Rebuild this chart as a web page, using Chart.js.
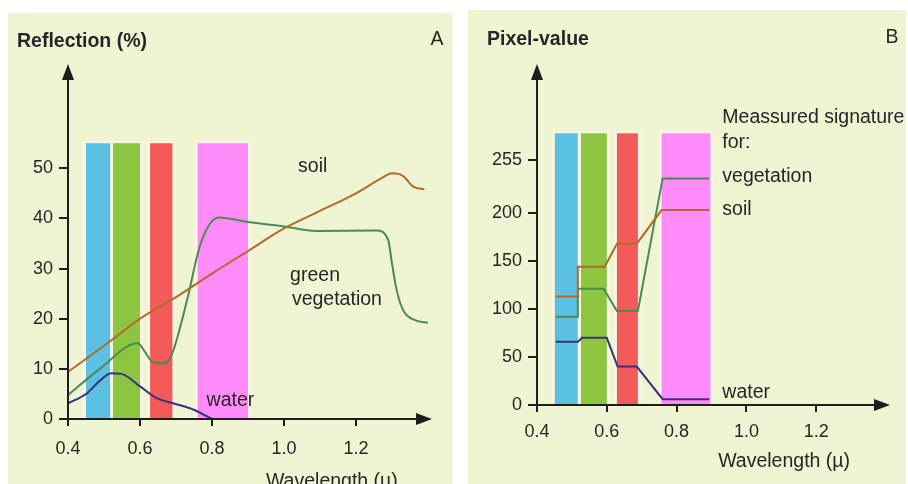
<!DOCTYPE html>
<html>
<head>
<meta charset="utf-8">
<script src="https://cdn.jsdelivr.net/npm/chart.js@4.4.0/dist/chart.umd.min.js"></script>
<style>
  body { margin: 0; background: #fff; width: 908px; height: 484px; overflow: hidden; position: relative; }
  .painel { position: absolute; background: #eff4d3; }
  #painelA { left: 8px; top: 13px; width: 445px; height: 480px; }
  #painelB { left: 468px; top: 10px; width: 438px; height: 480px; }
</style>
</head>
<body>
<div class="painel" id="painelA"><canvas id="graficoA"></canvas></div>
<div class="painel" id="painelB"><canvas id="graficoB"></canvas></div>
<script>
// faixas espectrais (comprimento de onda inicio/fim)
const bandasA = [[0.45, 0.517], [0.525, 0.6], [0.628, 0.69], [0.76, 0.9]];
const bandasB = [[0.451, 0.517], [0.526, 0.6], [0.629, 0.689], [0.757, 0.897]];
const coresBandas = ['#5cc0e2', '#8dc540', '#f35a5a', '#ff8bfa'];
const topoBandaA = 55;
const topoBandaB = 283;

const ticksX = [0.4, 0.6, 0.8, 1.0, 1.2];
const ticksYA = [0, 10, 20, 30, 40, 50];
const ticksYB = [0, 50, 100, 150, 200, 255];

// A - reflexao (%)
const soloAx = [0.4, 0.5, 0.6, 0.7, 0.8, 0.9, 1.0, 1.1, 1.2, 1.27, 1.3, 1.33, 1.36, 1.39];
const soloAy = [9.4, 14.6, 20, 24.3, 29, 33.5, 38, 41.5, 45, 48, 49, 48.5, 46.3, 45.8];
const vegAx = [0.4, 0.485, 0.594, 0.611, 0.634, 0.661, 0.684, 0.707, 0.735, 0.763, 0.791, 0.819, 0.9, 1.0, 1.09, 1.256, 1.289, 1.3, 1.313, 1.331, 1.364, 1.4];
const vegAy = [4.8, 9.8, 15.1, 13.7, 11.4, 11.1, 12.1, 17.1, 25, 33.7, 38.6, 40.2, 39.3, 38.4, 37.5, 37.6, 35.8, 31, 25.7, 21.7, 19.7, 19.2];
const aguaAx = [0.4, 0.452, 0.485, 0.52, 0.548, 0.602, 0.648, 0.694, 0.751, 0.8];
const aguaAy = [3.1, 5.1, 7.4, 9.1, 9.0, 6.4, 4.1, 3.1, 1.8, 0];

// B - pixel-value
const soloBx = [0.454, 0.517, 0.517, 0.594, 0.629, 0.686, 0.757, 0.894];
const soloBy = [113, 113, 144, 144, 168, 168, 203, 203];
const vegBx = [0.454, 0.517, 0.517, 0.591, 0.629, 0.689, 0.76, 0.894];
const vegBy = [92, 92, 121, 121, 98, 98, 236, 236];
const aguaBx = [0.454, 0.517, 0.529, 0.6, 0.631, 0.686, 0.76, 0.894];
const aguaBy = [66, 66, 70, 70, 40, 40, 6, 6];

const corSolo = '#b4692c';
const corVeg = '#4b8a52';
const corAgua = '#34337e';
const corTexto = '#262626';
const corEixo = '#1e1e1e';
const fonte = '"Liberation Sans", Arial, sans-serif';

function pontos(xs, ys) {
  return xs.map((x, i) => ({ x: x, y: ys[i] }));
}

function serie(nome, xs, ys, cor, curva) {
  return {
    label: nome,
    data: pontos(xs, ys),
    showLine: true,
    borderColor: cor,
    borderWidth: 2,
    pointRadius: 0,
    tension: curva ? 0.4 : 0,
    cubicInterpolationMode: curva ? 'monotone' : 'default'
  };
}

const faixasPlugin = {
  id: 'faixas',
  beforeDatasetsDraw(chart, args, opts) {
    const { ctx, scales: { x, y } } = chart;
    const yTopo = y.getPixelForValue(opts.topo);
    const yBase = y.getPixelForValue(0);
    ctx.save();
    opts.bandas.forEach((b) => {
      const x0 = x.getPixelForValue(b[0]);
      const x1 = x.getPixelForValue(b[1]);
      ctx.fillStyle = '#f9f6e2';
      ctx.fillRect(x0 - 3, yTopo - 2, x1 - x0 + 6, yBase - yTopo + 2);
    });
    opts.bandas.forEach((b, i) => {
      const x0 = x.getPixelForValue(b[0]);
      const x1 = x.getPixelForValue(b[1]);
      ctx.fillStyle = coresBandas[i];
      ctx.fillRect(x0, yTopo, x1 - x0, yBase - yTopo);
    });
    ctx.restore();
  }
};

const eixosPlugin = {
  id: 'eixos',
  afterDraw(chart, args, opts) {
    const { ctx, chartArea, scales: { x, y } } = chart;
    const x0 = chartArea.left;
    const y0 = chartArea.bottom;
    ctx.save();
    // linhas dos eixos por cima das faixas
    ctx.strokeStyle = corEixo;
    ctx.lineWidth = 2;
    ctx.beginPath();
    ctx.moveTo(x0 - 9, y0);
    ctx.lineTo(chartArea.right - 6, y0);
    ctx.moveTo(x0, y0 + 7);
    ctx.lineTo(x0, chartArea.top + 6);
    ctx.stroke();
    ctx.fillStyle = corEixo;
    // seta x
    ctx.beginPath();
    ctx.moveTo(chartArea.right + 4, y0);
    ctx.lineTo(chartArea.right - 12, y0 - 6);
    ctx.lineTo(chartArea.right - 12, y0 + 6);
    ctx.closePath();
    ctx.fill();
    // seta y
    ctx.beginPath();
    ctx.moveTo(x0, chartArea.top - 4);
    ctx.lineTo(x0 - 6, chartArea.top + 12);
    ctx.lineTo(x0 + 6, chartArea.top + 12);
    ctx.closePath();
    ctx.fill();
    // textos
    ctx.fillStyle = corTexto;
    ctx.textBaseline = 'middle';
    opts.textos.forEach((t) => {
      ctx.font = (t.negrito ? 'bold ' : '') + '19.5px ' + fonte;
      ctx.textAlign = t.alinha || 'left';
      const px = t.px !== undefined ? t.px : x.getPixelForValue(t.x);
      const py = t.py !== undefined ? t.py : y.getPixelForValue(t.y);
      ctx.fillText(t.texto, px, py);
    });
    ctx.restore();
  }
};

function criaGrafico(id, cfg) {
  return new Chart(document.getElementById(id), {
    type: 'scatter',
    data: { datasets: cfg.series },
    options: {
      responsive: true,
      maintainAspectRatio: false,
      animation: false,
      layout: { padding: cfg.padding },
      plugins: {
        legend: { display: false },
        tooltip: { enabled: false },
        faixas: { bandas: cfg.bandas, topo: cfg.topo },
        eixos: { textos: cfg.textos }
      },
      scales: {
        x: {
          type: 'linear',
          min: 0.4,
          max: 1.4,
          afterBuildTicks: (s) => { s.ticks = ticksX.map((v) => ({ value: v })); },
          afterFit: (s) => { s.height = cfg.alturaX; },
          border: { display: false },
          grid: { drawOnChartArea: false, drawTicks: true, tickLength: 7, tickColor: corEixo, lineWidth: 2 },
          ticks: {
            padding: cfg.padTickX,
            color: corTexto,
            font: { family: fonte, size: 18 },
            callback: (v) => Number(v).toFixed(1)
          }
        },
        y: {
          min: 0,
          max: cfg.maxY,
          afterBuildTicks: (s) => { s.ticks = cfg.ticksY.map((v) => ({ value: v })); },
          afterFit: (s) => { s.width = cfg.larguraY; },
          border: { display: false },
          grid: { drawOnChartArea: false, drawTicks: true, tickLength: 9, tickColor: corEixo, lineWidth: 2 },
          ticks: {
            padding: 6,
            color: corTexto,
            font: { family: fonte, size: 18 }
          }
        }
      }
    },
    plugins: [faixasPlugin, eixosPlugin]
  });
}

criaGrafico('graficoA', {
  series: [
    serie('soil', soloAx, soloAy, corSolo, true),
    serie('green vegetation', vegAx, vegAy, corVeg, true),
    serie('water', aguaAx, aguaAy, corAgua, true)
  ],
  bandas: bandasA,
  topo: topoBandaA,
  ticksY: ticksYA,
  maxY: 70,
  padding: { left: 0, right: 25, top: 55, bottom: 0 },
  larguraY: 60,
  alturaX: 74,
  padTickX: 12,
  textos: [
    { texto: 'Reflection (%)', px: 9, py: 29, negrito: true },
    { texto: 'A', px: 429, py: 27, alinha: 'center' },
    { texto: 'soil', x: 1.039, y: 50.4 },
    { texto: 'green', x: 1.017, y: 28.5 },
    { texto: 'vegetation', x: 1.022, y: 23.8 },
    { texto: 'water', x: 0.785, y: 3.6 },
    { texto: 'Wavelength (\u00b5)', x: 1.133, py: 469, alinha: 'center' }
  ]
});

criaGrafico('graficoB', {
  series: [
    serie('soil', soloBx, soloBy, corSolo, false),
    serie('vegetation', vegBx, vegBy, corVeg, false),
    serie('water', aguaBx, aguaBy, corAgua, false)
  ],
  bandas: bandasB,
  topo: topoBandaB,
  ticksY: ticksYB,
  maxY: 351,
  padding: { left: 0, right: 20, top: 58, bottom: 0 },
  larguraY: 69,
  alturaX: 85,
  padTickX: 9,
  textos: [
    { texto: 'Pixel-value', px: 19, py: 30, negrito: true },
    { texto: 'B', px: 424, py: 28, alinha: 'center' },
    { texto: 'Meassured signature', x: 0.931, y: 299 },
    { texto: 'for:', x: 0.931, y: 273 },
    { texto: 'vegetation', x: 0.931, y: 237.5 },
    { texto: 'soil', x: 0.931, y: 204 },
    { texto: 'water', x: 0.931, y: 12.5 },
    { texto: 'Wavelength (\u00b5)', x: 1.108, py: 452, alinha: 'center' }
  ]
});
</script>
</body>
</html>
